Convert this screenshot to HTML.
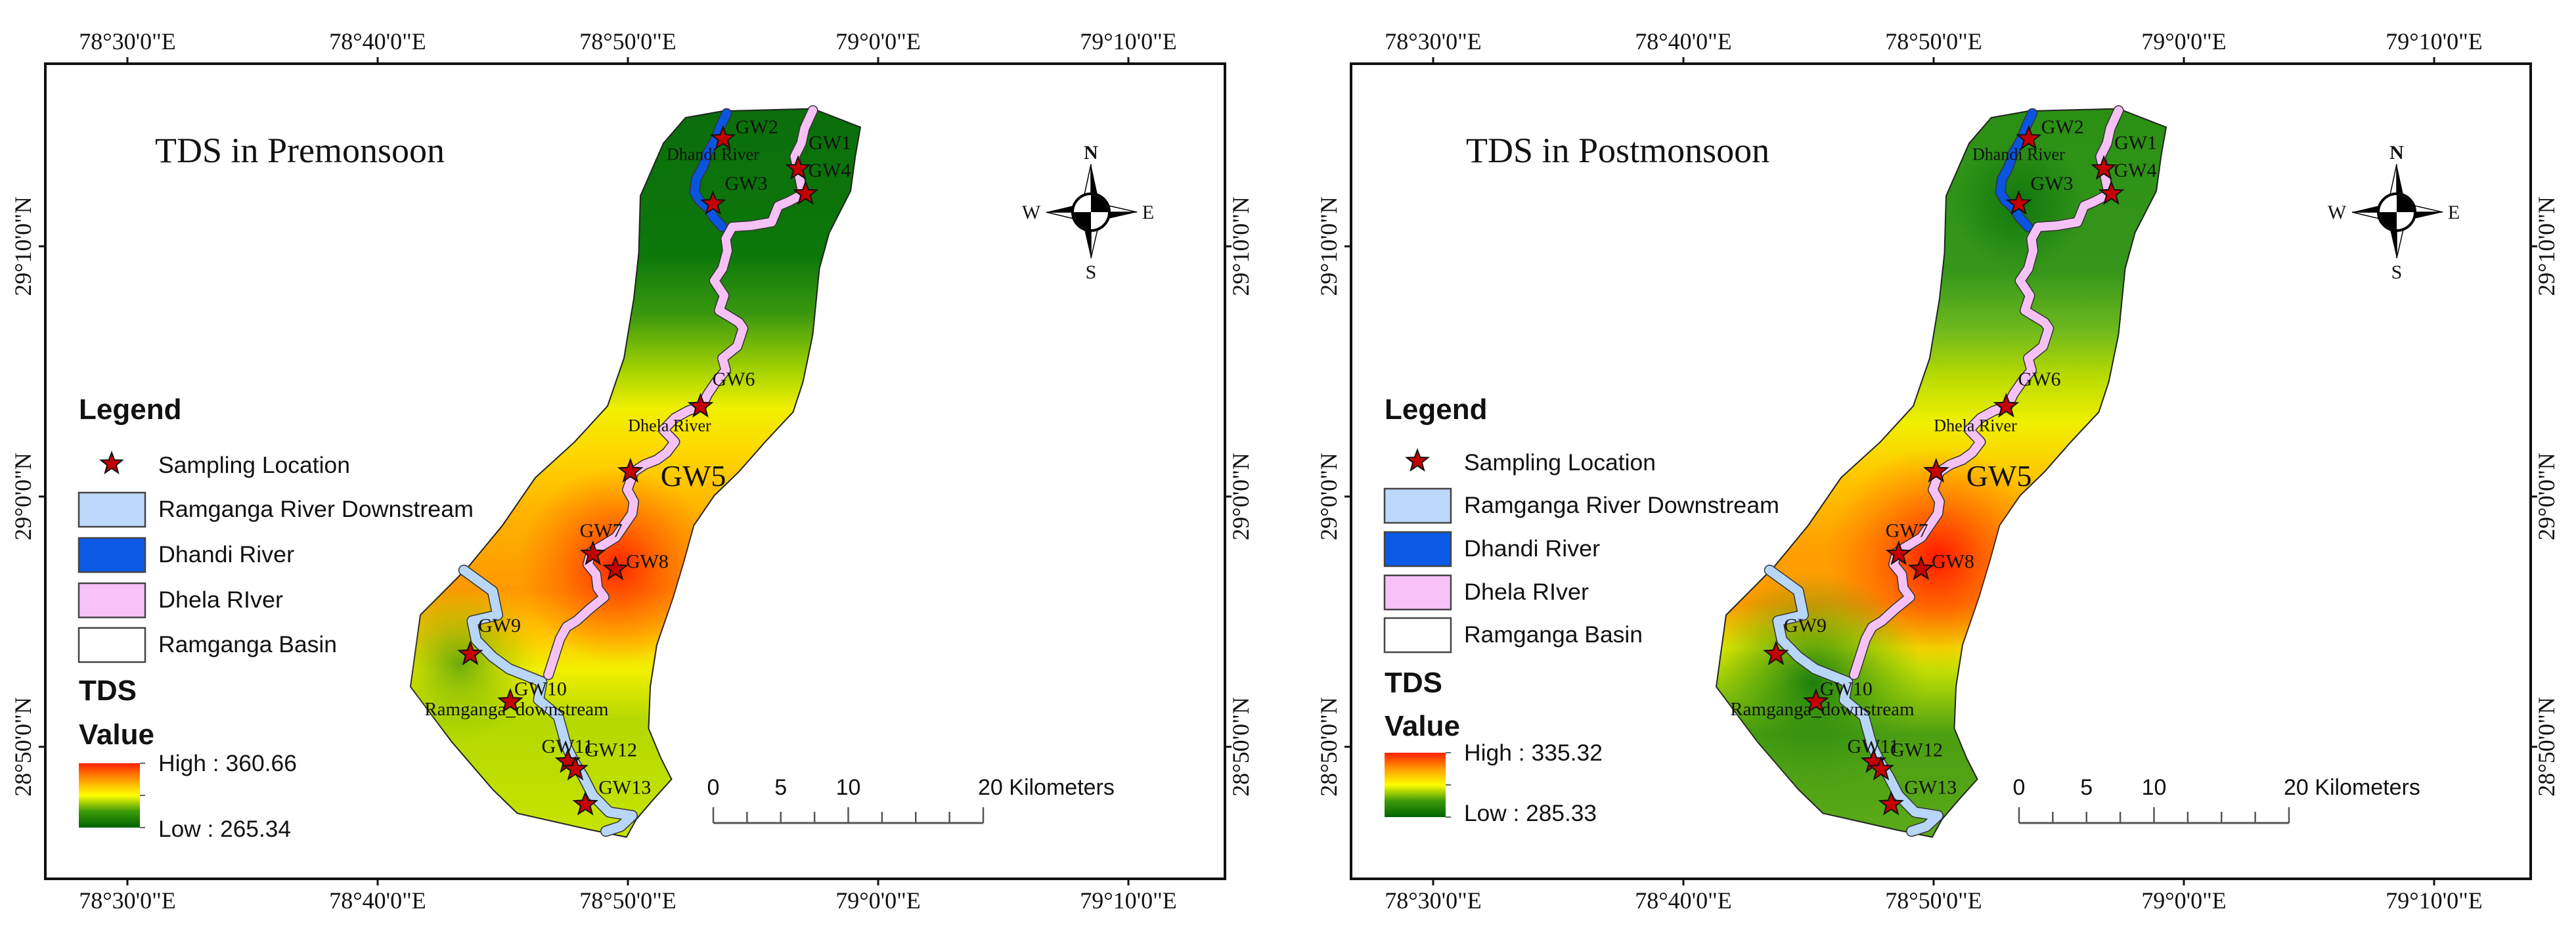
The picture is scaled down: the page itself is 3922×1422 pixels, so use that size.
<!DOCTYPE html>
<html><head><meta charset="utf-8">
<style>
html,body{margin:0;padding:0;background:#fff;}
svg{display:block;}
.tm{font-family:"Liberation Serif",serif;fill:#111;}
.ar{font-family:"Liberation Sans",sans-serif;fill:#111;}
</style></head>
<body>
<svg id="fig" width="3922" height="1422" viewBox="0 0 3922 1422" xmlns="http://www.w3.org/2000/svg">
<defs>
  <linearGradient id="gPre" gradientUnits="userSpaceOnUse" x1="0" y1="169" x2="0" y2="1273">
    <stop offset="0" stop-color="#0b6e0b"/><stop offset="0.2" stop-color="#0c780a"/>
    <stop offset="0.28" stop-color="#3a980f"/><stop offset="0.36" stop-color="#a8d400"/>
    <stop offset="0.41" stop-color="#f0f000"/><stop offset="0.47" stop-color="#ffd800"/>
    <stop offset="0.55" stop-color="#ffb400"/><stop offset="0.66" stop-color="#ff9800"/>
    <stop offset="0.72" stop-color="#ffc400"/><stop offset="0.77" stop-color="#f2f000"/>
    <stop offset="0.84" stop-color="#b4d800"/><stop offset="1" stop-color="#c8e400"/>
  </linearGradient>
  <radialGradient id="rPre" gradientUnits="userSpaceOnUse" cx="940" cy="860" r="150">
    <stop offset="0" stop-color="#ff2400" stop-opacity="1"/><stop offset="1" stop-color="#ff6000" stop-opacity="0"/>
  </radialGradient>
  <radialGradient id="gPreBL" gradientUnits="userSpaceOnUse" cx="700" cy="1010" r="120">
    <stop offset="0" stop-color="#4a9a10" stop-opacity="0.8"/><stop offset="1" stop-color="#8cc400" stop-opacity="0"/>
  </radialGradient>
  <linearGradient id="gPost" gradientUnits="userSpaceOnUse" x1="0" y1="169" x2="0" y2="1273">
    <stop offset="0" stop-color="#2a9014"/><stop offset="0.22" stop-color="#35961a"/>
    <stop offset="0.3" stop-color="#6cb81e"/><stop offset="0.37" stop-color="#bcdc00"/>
    <stop offset="0.43" stop-color="#f0f000"/><stop offset="0.5" stop-color="#ffc800"/>
    <stop offset="0.6" stop-color="#ffa000"/><stop offset="0.68" stop-color="#ff9a00"/>
    <stop offset="0.74" stop-color="#eeee00"/><stop offset="0.8" stop-color="#9ccc08"/>
    <stop offset="0.86" stop-color="#4c9e12"/><stop offset="1" stop-color="#5aaa18"/>
  </linearGradient>
  <radialGradient id="rPost" gradientUnits="userSpaceOnUse" cx="2950" cy="850" r="170">
    <stop offset="0" stop-color="#ff1800" stop-opacity="1"/><stop offset="1" stop-color="#ff6000" stop-opacity="0"/>
  </radialGradient>
  <radialGradient id="gPostBL" gradientUnits="userSpaceOnUse" cx="2760" cy="1040" r="170">
    <stop offset="0" stop-color="#137a0e" stop-opacity="0.95"/><stop offset="1" stop-color="#3a9a10" stop-opacity="0"/>
  </radialGradient>
  <radialGradient id="gPostTop" gradientUnits="userSpaceOnUse" cx="3075" cy="310" r="100">
    <stop offset="0" stop-color="#0b700b" stop-opacity="0.8"/><stop offset="1" stop-color="#0b700b" stop-opacity="0"/>
  </radialGradient>
  <linearGradient id="gBar" x1="0" y1="0" x2="0" y2="1">
    <stop offset="0" stop-color="#ff2000"/><stop offset="0.25" stop-color="#ff9a00"/>
    <stop offset="0.5" stop-color="#ffff00"/><stop offset="0.75" stop-color="#3c9a08"/>
    <stop offset="1" stop-color="#006400"/>
  </linearGradient>
</defs>
</svg>
<script>
// ---- data ----
const lonTicks = [30, 40, 50, 60, 70];            // minutes east of 78°
const lonTickLabels = ["78°30'0\"E","78°40'0\"E","78°50'0\"E","79°0'0\"E","79°10'0\"E"];
const latTicks = [70, 60, 50];                     // minutes north of 28°
const latTickLabels = ["29°10'0\"N","29°0'0\"N","28°50'0\"N"];
const stationNames = ["GW1","GW2","GW3","GW4","GW5","GW6","GW7","GW8","GW9","GW10","GW11","GW12","GW13"];
const stationLon = [56.8, 53.8, 53.4, 57.1, 50.1, 52.9, 48.6, 49.5, 43.7, 45.3, 47.6, 47.9, 48.3];
const stationLat = [73.1, 74.3, 71.7, 72.1, 61.0, 63.6, 57.7, 57.1, 53.7, 51.8, 49.4, 49.1, 47.7];
const preRange = ["High : 360.66", "Low : 265.34"];
const postRange = ["High : 335.32", "Low : 285.33"];
const scaleLabels = ["0","5","10","20 Kilometers"];
const scaleKm = [0,5,10,20];

const NS = "http://www.w3.org/2000/svg";
const svg = document.getElementById('fig');
function el(tag, attrs, parent){
  const e = document.createElementNS(NS, tag);
  for (const k in attrs) e.setAttribute(k, attrs[k]);
  (parent||svg).appendChild(e); return e;
}
function xLon(m, dx){ return 194 + (m - 30) * 38.1 + dx; }
function yLat(m){ return 375 + (70 - m) * 38.1; }
function P(x,y,dx){ return [(x/0.8 + dx).toFixed(1), (y/1.1).toFixed(1)]; }
function pts(arr, dx){ return arr.map(p=>P(p[0],p[1],dx).join(',')).join(' '); }
function pathD(arr, dx){ return arr.map((p,i)=>(i?'L':'M')+P(p[0],p[1],dx).join(',')).join(' '); }

const basin = [[835,197],[880,186],[990,182],[1048,213],[1042,260],[1036,320],[1010,390],[998,450],[990,560],[978,640],[966,690],[932,740],[900,790],[870,830],[845,880],[833,940],[820,1000],[800,1080],[792,1150],[790,1220],[805,1270],[818,1305],[795,1340],[775,1372],[763,1402],[720,1390],[630,1362],[600,1322],[550,1242],[500,1150],[512,1030],[570,950],[612,880],[652,800],[700,740],[740,680],[760,600],[772,500],[778,424],[780,328],[808,240]];
const dhela = [[990,185],[980,215],[976,240],[968,262],[972,285],[978,325],[960,338],[948,345],[940,372],[915,378],[892,380],[884,400],[886,420],[880,450],[870,470],[882,495],[876,520],[900,540],[905,550],[898,580],[880,600],[884,620],[872,640],[862,660],[855,680],[838,688],[822,700],[808,720],[822,740],[812,758],[800,770],[785,778],[772,790],[764,820],[772,840],[770,860],[760,880],[750,900],[720,925],[716,945],[726,962],[728,985],[736,1000],[718,1020],[702,1040],[690,1050],[682,1070],[675,1100],[668,1130]];
const dhandi = [[885,190],[878,210],[872,232],[862,256],[856,280],[848,300],[846,322],[852,336],[862,348],[870,365],[880,380]];
const ramg = [[565,955],[600,990],[606,1030],[575,1040],[580,1072],[600,1100],[620,1120],[660,1142],[656,1172],[670,1188],[680,1200],[690,1250],[700,1278],[710,1300],[722,1332],[742,1360],[770,1366],[756,1384],[738,1392]];

function star(cx, cy, r, parent, name){
  let d='';
  for(let i=0;i<10;i++){
    const a = -Math.PI/2 + i*Math.PI/5;
    const rr = i%2 ? r*0.42 : r;
    d += (i?'L':'M') + (cx+rr*Math.cos(a)).toFixed(1) + ',' + (cy+rr*Math.sin(a)).toFixed(1);
  }
  const s = el('path', {d: d+'Z', fill:'#c40000', stroke:'#111', 'stroke-width':2}, parent);
  
  
  return s;
}
function txt(x,y,s,cls,size,parent,name,extra){
  const t = el('text', Object.assign({x:x,y:y,'class':cls,'font-size':size}, extra||{}), parent);
  t.textContent = s;
  
  
  return t;
}

const labelDx = [16,19,18,4,46,18,-20,16,12,6,-40,14,20];
const labelDy = [-30,-8,-21,-26,22,-32,-26,-2,-34,-10,-14,-20,-16];
const labelSz = [30,30,30,30,46,30,30,30,30,30,30,30,30];

function buildMap(dx, title, fillId, overlays, range, legendShift){
  const g = el('g', {});
  
  
  const L = 69+dx, R = 1865+dx, T = 97, B = 1338;
  const b = el('polygon', {points: pts(basin,dx), fill:'url(#'+fillId+')', stroke:'#222', 'stroke-width':2}, g);
  
  
  const clipId = 'clip'+dx;
  const cp = el('clipPath', {id: clipId}, g);
  el('polygon', {points: pts(basin,dx)}, cp);
  overlays.forEach(o=>{
    const ov = el('rect', {x:L, y:T, width:R-L, height:B-T, fill:'url(#'+o+')', 'clip-path':'url(#'+clipId+')'}, g);
    
    
  });
  [[ramg,'#b8d6f8','ramganga-river-downstream',14],[dhandi,'#0a55e0','dhandi-river',13],[dhela,'#f6c2f6','dhela-river',13]].forEach(rv=>{
    const o = el('path', {d: pathD(rv[0],dx), fill:'none', stroke:'#333', 'stroke-width':rv[3]+3, 'stroke-linejoin':'round','stroke-linecap':'round'}, g);
    
    
    const p = el('path', {d: pathD(rv[0],dx), fill:'none', stroke:rv[1], 'stroke-width':rv[3], 'stroke-linejoin':'round','stroke-linecap':'round'}, g);
    
    
  });
  stationNames.forEach((n,i)=>{
    const x = xLon(stationLon[i],dx), y = yLat(stationLat[i]);
    star(x, y, 18, g, 'station-'+n.toLowerCase());
    txt(x+labelDx[i], y+labelDy[i], n, 'tm', labelSz[i], g, 'label-'+n.toLowerCase());
  });
  txt(P(812,268,dx)[0], P(812,268,dx)[1], 'Dhandi River', 'tm', 26, g, 'dhandi-river-label');
  txt(P(765,722,dx)[0], P(765,722,dx)[1], 'Dhela River', 'tm', 26, g, 'dhela-river-label');
  txt(P(517,1198,dx)[0], P(517,1198,dx)[1], 'Ramganga_downstream', 'tm', 29, g, 'ramganga-downstream-label');
  const f = el('rect', {x:L, y:T, width:R-L, height:B-T, fill:'none', stroke:'#111', 'stroke-width':4}, g);
  
  
  lonTicks.forEach((m,i)=>{
    const x = xLon(m,dx);
    el('line',{x1:x,y1:T,x2:x,y2:T-10,stroke:'#111','stroke-width':3},g);
    el('line',{x1:x,y1:B,x2:x,y2:B+10,stroke:'#111','stroke-width':3},g);
    txt(x, 75, lonTickLabels[i], 'tm', 36, g, 'top-lon-label', {'text-anchor':'middle'});
    txt(x, 1383, lonTickLabels[i], 'tm', 36, g, 'bottom-lon-label', {'text-anchor':'middle'});
  });
  latTicks.forEach((m,i)=>{
    const y = yLat(m);
    el('line',{x1:L,y1:y,x2:L-10,y2:y,stroke:'#111','stroke-width':3},g);
    el('line',{x1:R,y1:y,x2:R+10,y2:y,stroke:'#111','stroke-width':3},g);
    const lx = L-22, rx = R+36;
    txt(lx, y, latTickLabels[i], 'tm', 36, g, 'left-lat-label', {'text-anchor':'middle', transform:'rotate(-90 '+lx+' '+y+')'});
    txt(rx, y, latTickLabels[i], 'tm', 36, g, 'right-lat-label', {'text-anchor':'middle', transform:'rotate(-90 '+rx+' '+y+')'});
  });
  txt(236+dx+(dx?8:0), 247, title, 'tm', 54, g, 'map-title');
  const cx = 1661+dx, cy = 323;
  const cg = el('g', {}, g);
  
  
  [[0,-73],[70,0],[0,70],[-68,0]].forEach(v=>{
    const len = Math.hypot(v[0],v[1]), ux=v[0]/len, uy=v[1]/len, px=-uy, py=ux;
    const tip=[cx+v[0],cy+v[1]];
    const a=[cx+px*11+ux*22, cy+py*11+uy*22], c=[cx-px*11+ux*22, cy-py*11+uy*22];
    el('polygon',{points:[tip,a,[cx,cy]].map(p=>p.join(',')).join(' '),fill:'#000'},cg);
    el('polygon',{points:[tip,c,[cx,cy]].map(p=>p.join(',')).join(' '),fill:'#fff',stroke:'#000','stroke-width':1.5},cg);
  });
  el('circle',{cx:cx,cy:cy,r:28,fill:'#fff',stroke:'#000','stroke-width':4},cg);
  el('path',{d:`M${cx},${cy} L${cx},${cy-26} A26,26 0 0 1 ${cx+26},${cy} Z`,fill:'#000'},cg);
  el('path',{d:`M${cx},${cy} L${cx},${cy+26} A26,26 0 0 1 ${cx-26},${cy} Z`,fill:'#000'},cg);
  txt(cx, 242, 'N', 'tm', 30, cg, 'compass-n', {'text-anchor':'middle','font-weight':'bold'});
  txt(cx, 424, 'S', 'tm', 30, cg, 'compass-s', {'text-anchor':'middle'});
  txt(cx-91, 333, 'W', 'tm', 30, cg, 'compass-w', {'text-anchor':'middle'});
  txt(cx+87, 333, 'E', 'tm', 30, cg, 'compass-e', {'text-anchor':'middle'});
  const sx0 = 1086+dx, sx1 = 1497+dx, sy = 1253;
  const kmPx = (sx1-sx0)/20;
  el('line',{x1:sx0,y1:sy,x2:sx1,y2:sy,stroke:'#555','stroke-width':3},g);
  for(let k=0;k<=8;k++){
    const x = sx0 + k*2.5*kmPx;
    const major = (k===0||k===4||k===8);
    el('line',{x1:x,y1:sy,x2:x,y2:sy-(major?24:17),stroke:'#555','stroke-width':2.5},g);
  }
  scaleKm.forEach((km,i)=>{
    const x = sx0 + km*kmPx;
    txt(x, 1210, scaleLabels[i], 'ar', 34, g, 'scale-label', i<3?{'text-anchor':'middle'}:{x:x-8});
  });
  const lx = 120+dx, s = legendShift;
  txt(lx, 638, 'Legend', 'ar', 44, g, 'legend-title', {'font-weight':'bold'});
  star(lx+50, 706+s[0], 17, g, 'legend-star');
  txt(241+dx, 720+s[0], 'Sampling Location', 'ar', 35, g, 'legend-sampling-location', {textLength:292,lengthAdjust:'spacingAndGlyphs'});
  const items = [['#bcd8fa','Ramganga River Downstream',480],['#0a5ae6','Dhandi River',207],['#f6c2f8','Dhela RIver',190],['#ffffff','Ramganga Basin',272]];
  const rowY = [750,819,888,956];
  items.forEach((it,i)=>{
    const y = rowY[i]+s[1]*i+s[2];
    const r = el('rect',{x:lx,y:y,width:101,height:52,fill:it[0],stroke:'#444','stroke-width':2.5},g);
    
    
    txt(241+dx, y+37, it[1], 'ar', 35, g, 'legend-item-label', {textLength:it[2],lengthAdjust:'spacingAndGlyphs'});
  });
  txt(lx, 1066+s[3], 'TDS', 'ar', 44, g, 'legend-tds', {'font-weight':'bold'});
  txt(lx, 1133+s[4], 'Value', 'ar', 44, g, 'legend-value', {'font-weight':'bold'});
  const by0 = 1162+s[5], by1 = 1260+s[5];
  const bar = el('rect',{x:lx,y:by0,width:93,height:by1-by0,fill:'url(#gBar)'},g);
  
  
  [by0, (by0+by1)/2, by1].forEach(y=>el('line',{x1:lx+93,y1:y,x2:lx+101,y2:y,stroke:'#666','stroke-width':2},g));
  txt(241+dx, 1174+s[5], range[0], 'ar', 35, g, 'colorbar-high', {textLength:211,lengthAdjust:'spacingAndGlyphs'});
  txt(241+dx, 1274+s[5]-(dx?8:0), range[1], 'ar', 35, g, 'colorbar-low', {textLength:202,lengthAdjust:'spacingAndGlyphs'});
}
buildMap(0, 'TDS in Premonsoon', 'gPre', ['rPre','gPreBL'], preRange, [0,0,0,0,0,0]);
buildMap(1988, 'TDS in Postmonsoon', 'gPost', ['rPost','gPostBL','gPostTop'], postRange, [-4,-3,-6,-12,-13,-16]);
</script>
</body></html>
